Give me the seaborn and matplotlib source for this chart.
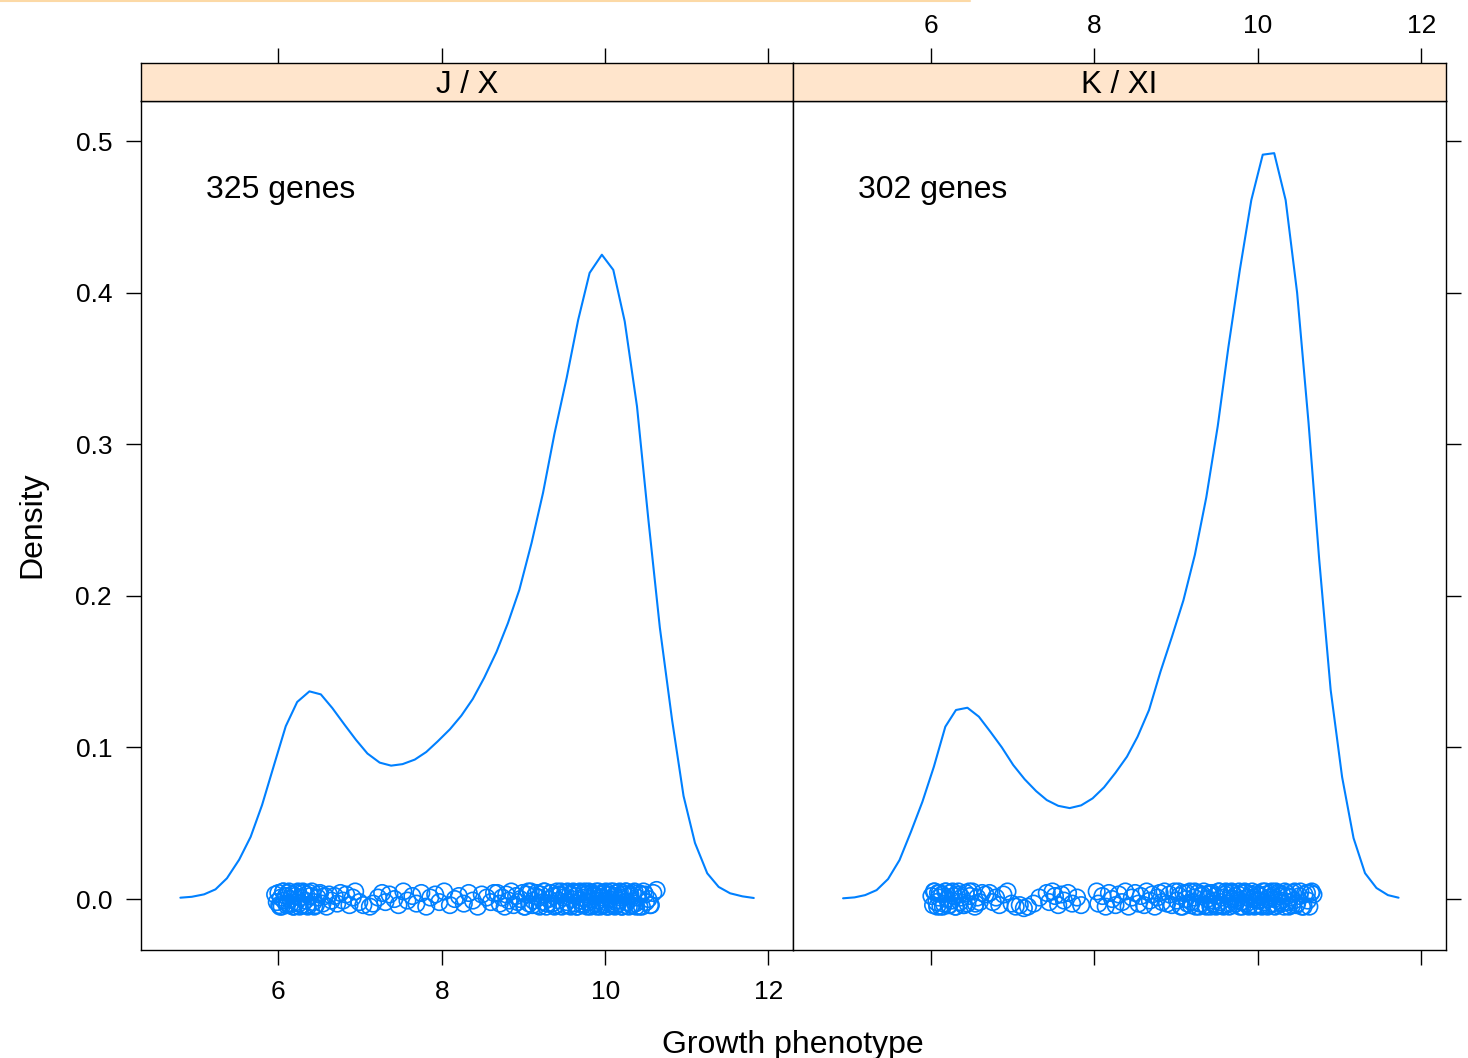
import numpy as np
import seaborn as sns
import matplotlib.pyplot as plt
from matplotlib.lines import Line2D

# density curves (50 point grid)
d1_x = [4.80, 4.94, 5.09, 5.23, 5.37, 5.52, 5.66, 5.80, 5.95, 6.09,
        6.23, 6.38, 6.52, 6.66, 6.81, 6.95, 7.09, 7.24, 7.38, 7.52,
        7.67, 7.81, 7.95, 8.10, 8.24, 8.38, 8.52, 8.67, 8.81, 8.95,
        9.10, 9.24, 9.38, 9.53, 9.67, 9.81, 9.96, 10.10, 10.24, 10.39,
        10.53, 10.67, 10.82, 10.96, 11.10, 11.25, 11.39, 11.53, 11.68, 11.82]
d1_y = [0.0009, 0.0015, 0.0031, 0.0064, 0.0137, 0.026, 0.041, 0.062, 0.089, 0.114,
        0.130, 0.137, 0.135, 0.126, 0.115, 0.105, 0.096, 0.090, 0.088, 0.089,
        0.092, 0.097, 0.104, 0.112, 0.121, 0.132, 0.146, 0.163, 0.182, 0.204,
        0.235, 0.268, 0.307, 0.344, 0.382, 0.413, 0.425, 0.415, 0.381, 0.325,
        0.250, 0.179, 0.118, 0.068, 0.037, 0.017, 0.008, 0.0038, 0.0018, 0.0007]

d2_x = [4.93, 5.07, 5.20, 5.34, 5.48, 5.62, 5.76, 5.90, 6.04, 6.18,
        6.31, 6.45, 6.59, 6.73, 6.87, 7.01, 7.15, 7.29, 7.42, 7.56,
        7.70, 7.84, 7.98, 8.12, 8.26, 8.40, 8.53, 8.67, 8.81, 8.95,
        9.09, 9.23, 9.37, 9.51, 9.64, 9.78, 9.92, 10.06, 10.20, 10.34,
        10.48, 10.62, 10.75, 10.89, 11.03, 11.17, 11.31, 11.45, 11.59, 11.72]
d2_y = [0.0005, 0.0011, 0.0026, 0.0059, 0.0132, 0.0257, 0.0444, 0.0642, 0.0873, 0.1137,
        0.1247, 0.1262, 0.1203, 0.1104, 0.1001, 0.0884, 0.0790, 0.0712, 0.0653, 0.0615,
        0.0600, 0.0618, 0.0664, 0.0737, 0.0833, 0.0939, 0.1071, 0.1247, 0.150, 0.173,
        0.197, 0.227, 0.265, 0.312, 0.364, 0.415, 0.461, 0.491, 0.492, 0.461,
        0.400, 0.314, 0.224, 0.138, 0.0805, 0.0402, 0.0171, 0.0073, 0.0026, 0.0009]

# the jittered raw points along y = 0
p1_x = [5.96, 5.98, 6.00, 6.01, 6.03, 6.04, 6.06, 6.07, 6.09, 6.11,
        6.12, 6.14, 6.15, 6.17, 6.19, 6.20, 6.22, 6.24, 6.25, 6.27,
        6.29, 6.31, 6.33, 6.34, 6.36, 6.39, 6.41, 6.43, 6.46, 6.48,
        6.51, 6.54, 6.57, 6.59, 6.62, 6.65,
        6.69, 6.72, 6.76, 6.79, 6.83, 6.87, 6.91, 6.94, 6.99, 7.04,
        7.12, 7.16, 7.22, 7.27, 7.31, 7.36, 7.42, 7.47, 7.53, 7.58,
        7.64, 7.69, 7.75, 7.81, 7.86, 7.92, 7.97, 8.03, 8.10, 8.16,
        8.21, 8.27, 8.33, 8.38, 8.44, 8.49, 8.55, 8.60, 8.64,
        8.68, 8.71, 8.74, 8.77, 8.79, 8.82, 8.85, 8.88, 8.91, 8.93,
        8.96, 8.99, 9.02, 9.04, 9.07, 9.09, 9.12, 9.14, 9.17, 9.19,
        9.21, 9.24, 9.26, 9.28, 9.31, 9.33, 9.35, 9.37, 9.39, 9.41,
        9.43, 9.45, 9.47, 9.49, 9.51, 9.53, 9.55, 9.57, 9.59, 9.61,
        9.63, 9.64, 9.66, 9.68, 9.70, 9.72, 9.73, 9.75, 9.77, 9.79,
        9.81, 9.82, 9.84, 9.86, 9.88, 9.89, 9.91, 9.93, 9.95, 9.96,
        9.98, 10.00, 10.02, 10.03, 10.05, 10.07, 10.09, 10.11, 10.13, 10.15,
        10.17, 10.19, 10.21, 10.23, 10.25, 10.27, 10.30, 10.32, 10.34, 10.37,
        10.39, 10.42, 10.44, 10.47, 10.50, 10.53, 10.56, 10.59, 10.63,
        9.01, 9.06, 9.11, 9.16, 9.20, 9.25, 9.29, 9.34, 9.38, 9.42,
        9.46, 9.50, 9.54, 9.58, 9.62, 9.65, 9.69, 9.71, 9.74, 9.78,
        9.80, 9.83, 9.87, 9.90, 9.92, 9.94, 9.97, 9.99, 10.01, 10.04,
        10.06, 10.08, 10.10, 10.12, 10.14, 10.16, 10.18, 10.20, 10.22, 10.24,
        10.26, 10.29, 10.31, 10.33, 10.36, 10.38, 10.41, 10.45, 10.49, 10.55,
        6.02, 6.06, 6.10, 6.13, 6.18, 6.21, 6.26, 6.30, 6.35, 6.38, 6.44, 6.50]
p1_jit = [.003, -.002, .004, -.004, .001, -.005, .005, -.001, .002, -.003,
          .004, -.004, .000, .003, -.005, .002, -.002, .005, -.003, .001,
          -.004, .004, -.001, .003, -.005, .002, .005, -.002, -.004, .001,
          .004, -.003, .002, -.005, .003, -.001,
          .002, -.003, .004, -.001, .003, -.004, .001, .005, -.002, -.004,
          -.005, -.003, .001, .004, -.002, .003, .000, -.004, .005, -.001,
          .002, -.003, .004, -.005, .001, .003, -.002, .005, -.004, .000,
          .002, -.003, .004, -.001, -.005, .003, .001, -.002, .004,
          .004, -.003, .001, -.005, .003, -.001, .005, -.004, .002, -.002,
          .000, .004, -.005, .003, -.003, .005, -.001, .002, -.004, .001,
          .003, -.002, .005, -.005, .000, .004, -.003, .002, -.004, .005,
          -.001, .003, -.005, .001, .004, -.002, -.004, .003, .000, .005,
          -.003, .002, -.005, .004, -.001, .001, -.004, .005, .003, -.002,
          .000, -.005, .004, .002, -.003, .005, -.001, .003, -.004, .001,
          .004, -.002, -.005, .003, .000, .005, -.003, .002, -.004, .004,
          -.001, .001, -.005, .003, .005, -.002, .002, -.004, .004, -.003,
          .001, -.005, .003, .005, -.002, .000, -.004, .004, .006,
          -.005, .005, -.004, .004, -.005, .005, -.003, .004, -.005, .003,
          .005, -.004, .005, -.005, .004, -.005, .005, -.003, .004, -.005,
          .005, -.004, .003, -.005, .005, -.005, .004, -.004, .005, -.005,
          .003, -.004, .005, -.005, .004, -.003, .005, -.005, .004, -.004,
          .005, -.005, .003, -.004, .005, -.005, .004, -.005, .003, -.004,
          -.005, .005, -.004, .005, -.005, .004, -.005, .005, -.004, .004, -.005, .003]

p2_x = [6.01, 6.03, 6.05, 6.07, 6.09, 6.10, 6.12, 6.14, 6.16, 6.18,
        6.20, 6.22, 6.24, 6.26, 6.28, 6.30, 6.32, 6.34, 6.36, 6.38,
        6.41, 6.43, 6.45, 6.48, 6.51, 6.54, 6.57, 6.60, 6.63, 6.67,
        6.72, 6.76, 6.80, 6.84, 6.89, 6.94, 6.99, 7.04, 7.09, 7.14,
        7.19, 7.26, 7.33, 7.42, 7.45, 7.49, 7.52, 7.56, 7.60, 7.63,
        7.68, 7.73, 7.79, 7.84,
        8.03, 8.05, 8.10, 8.14, 8.18, 8.22, 8.26, 8.30, 8.34, 8.38,
        8.42, 8.46, 8.50, 8.54, 8.57, 8.61, 8.64, 8.68, 8.71, 8.74,
        8.77, 8.80, 8.83, 8.86, 8.89,
        8.92, 8.95, 8.98, 9.01, 9.04, 9.06, 9.09, 9.12, 9.14, 9.17,
        9.19, 9.22, 9.24, 9.27, 9.29, 9.31, 9.34, 9.36, 9.38, 9.40,
        9.42, 9.44, 9.46, 9.48, 9.50, 9.52, 9.54, 9.56, 9.58, 9.60,
        9.62, 9.64, 9.66, 9.68, 9.70, 9.72, 9.74, 9.76, 9.78, 9.80,
        9.82, 9.84, 9.86, 9.88, 9.90, 9.92, 9.94, 9.96, 9.98, 10.00,
        10.02, 10.04, 10.06, 10.08, 10.10, 10.12, 10.14, 10.16, 10.18, 10.20,
        10.22, 10.24, 10.26, 10.28, 10.30, 10.32, 10.35, 10.37, 10.40, 10.42,
        10.45, 10.48, 10.51, 10.54, 10.57, 10.61, 10.65, 10.68,
        9.03, 9.08, 9.13, 9.18, 9.23, 9.28, 9.32, 9.37, 9.41, 9.45,
        9.49, 9.53, 9.57, 9.61, 9.65, 9.69, 9.73, 9.77, 9.81, 9.85,
        9.89, 9.93, 9.97, 10.01, 10.05, 10.09, 10.13, 10.17, 10.21, 10.25,
        10.29, 10.33, 10.38, 10.43, 10.47, 10.52, 10.56, 10.60, 10.63, 10.66,
        9.95, 10.03, 10.11, 10.19, 10.27, 9.87, 9.79, 9.71, 10.36, 10.44,
        6.04, 6.08, 6.11, 6.15, 6.19, 6.23, 6.27, 6.31, 6.35, 6.40, 6.47, 6.55]
p2_jit = [.002, -.004, .005, -.002, .004, .001, -.005, .003, -.003, .005,
          .000, -.004, .004, -.001, .002, -.005, .003, .005, -.002, .001,
          -.004, .004, -.003, .002, .005, -.005, .001, -.002, .004, .003,
          .004, -.002, .001, -.004, .003, .005, -.003, -.005, -.004, -.006,
          -.005, -.003, .001, .004, -.002, .005, .002, -.004, .003, -.001,
          .004, -.003, .001, -.004,
          .005, -.003, .002, -.005, .004, .000, -.004, .003, -.002, .005,
          -.005, .001, .004, -.003, .002, -.004, .005, -.001, .003, -.005,
          .001, .004, -.002, .005, -.003,
          .003, -.004, .005, -.001, .002, -.005, .004, .000, -.003, .005,
          -.002, .001, -.005, .004, -.003, .002, .005, -.004, .000, .003,
          -.005, .004, -.001, .002, -.004, .005, -.002, .001, -.005, .003,
          .004, -.003, .000, .005, -.004, .002, -.001, .003, -.005, .004,
          -.002, .005, -.003, .001, -.004, .003, .000, -.005, .004, -.001,
          .002, -.004, .005, -.002, .003, -.005, .001, .004, -.003, .000,
          .005, -.004, .002, -.001, .003, -.005, .004, -.002, .001, -.004,
          .005, -.003, .002, -.005, .003, -.001, .004, .003,
          .005, -.005, .004, -.004, .005, -.005, .003, -.005, .004, -.003,
          -.005, .005, -.004, .005, -.005, .004, -.003, .005, -.005, .004,
          -.005, .005, -.004, .003, -.005, .005, -.004, .005, -.005, .004,
          -.003, .005, -.005, .004, -.004, .005, -.005, .004, -.005, .005,
          .001, -.001, .000, .002, -.002, .001, -.002, .000, .002, -.001,
          .005, -.005, .004, -.005, .005, -.004, .005, -.005, .003, -.004, .005, -.003]

panel_names = ['J / X', 'K / XI']
gene_labels = ['325 genes', '302 genes']
x_ticks = [6, 8, 10, 12]
y_ticks = [0.0, 0.1, 0.2, 0.3, 0.4, 0.5]

#>>>>>>>>>>>>>>>>>>>>>> style <<<<<<<<<<<<<<<<<<<<<<<<<<
sns.set_style("ticks")
plt.rcParams['font.family'] = ['Liberation Sans', 'DejaVu Sans']
plt.rcParams['text.color'] = 'black'
plt.rcParams['axes.labelcolor'] = 'black'
plt.rcParams['xtick.color'] = 'black'
plt.rcParams['ytick.color'] = 'black'
blue = '#0080ff'
strip_col = '#ffe5cc'

W, H = 1468, 1058
fig = plt.figure(figsize=(W / 100, H / 100), dpi=100)

xlim = (4.318, 12.30)
ylim = (-0.0336, 0.5264)
lefts = [141, 793]
widths = [652, 653]

curves = [(d1_x, d1_y), (d2_x, d2_y)]
points = [(p1_x, p1_jit), (p2_x, p2_jit)]

tick_kw = dict(direction='out', length=10.8, width=1.0, labelsize=19, colors='black')

for k in range(2):
    ax = fig.add_axes([lefts[k] / W, 1 - 950 / H, widths[k] / W, 849 / H])
    st = fig.add_axes([lefts[k] / W, 1 - 101 / H, widths[k] / W, 38 / H])

    px, pj = points[k]
    n = min(len(px), len(pj))
    sns.scatterplot(x=px[:n], y=pj[:n], ax=ax, marker='o', s=140,
                    facecolor='none', edgecolor=blue, linewidth=1.2, legend=False)
    cx, cy = curves[k]
    sns.lineplot(x=cx, y=cy, ax=ax, color=blue, linewidth=1.5, sort=False, estimator=None)

    ax.set_xlim(xlim)
    ax.set_ylim(ylim)
    ax.set_xlabel('')
    ax.set_ylabel('')
    ax.set_xticks(x_ticks)
    ax.set_yticks(y_ticks)
    ax.set_yticklabels(['%.1f' % v for v in y_ticks])
    for sp in ax.spines.values():
        sp.set_visible(True)
        sp.set_linewidth(1.0)
        sp.set_color('black')
    ax.tick_params(axis='x', pad=11, **tick_kw)
    ax.tick_params(axis='y', pad=10, **tick_kw)
    if k == 0:
        ax.tick_params(bottom=True, labelbottom=True, top=False, left=True, labelleft=True, right=False)
    else:
        ax.tick_params(bottom=True, labelbottom=False, top=False, left=False, labelleft=False,
                       right=True, labelright=False)
    ax.text(0.1, 0.895, gene_labels[k], transform=ax.transAxes, ha='left', va='center', fontsize=23)

    # strip on top, carrying the top axis ticks
    st.set_facecolor(strip_col)
    st.set_xlim(xlim)
    st.set_ylim(0, 1)
    st.set_xticks(x_ticks)
    st.set_yticks([])
    for sp in st.spines.values():
        sp.set_visible(True)
        sp.set_linewidth(1.0)
        sp.set_color('black')
    st.tick_params(axis='x', pad=7, **tick_kw)
    st.tick_params(bottom=False, labelbottom=False, top=True, labeltop=(k == 1))
    st.text(0.5, 0.43, panel_names[k], transform=st.transAxes, ha='center', va='center', fontsize=22.5)

fig.text(32 / W, 1 - 525 / H, 'Density', rotation=90, ha='center', va='center', fontsize=23)
fig.text(793 / W, 1 - 1053 / H, 'Growth phenotype', ha='center', va='baseline', fontsize=23)

# thin orange rule along the top edge of the screenshot
fig.add_artist(Line2D([0, 970 / W], [1 - 0.8 / H, 1 - 0.8 / H], transform=fig.transFigure,
                      color='#fcd9a6', linewidth=1.5))

fig.savefig('out.png', dpi=100)
